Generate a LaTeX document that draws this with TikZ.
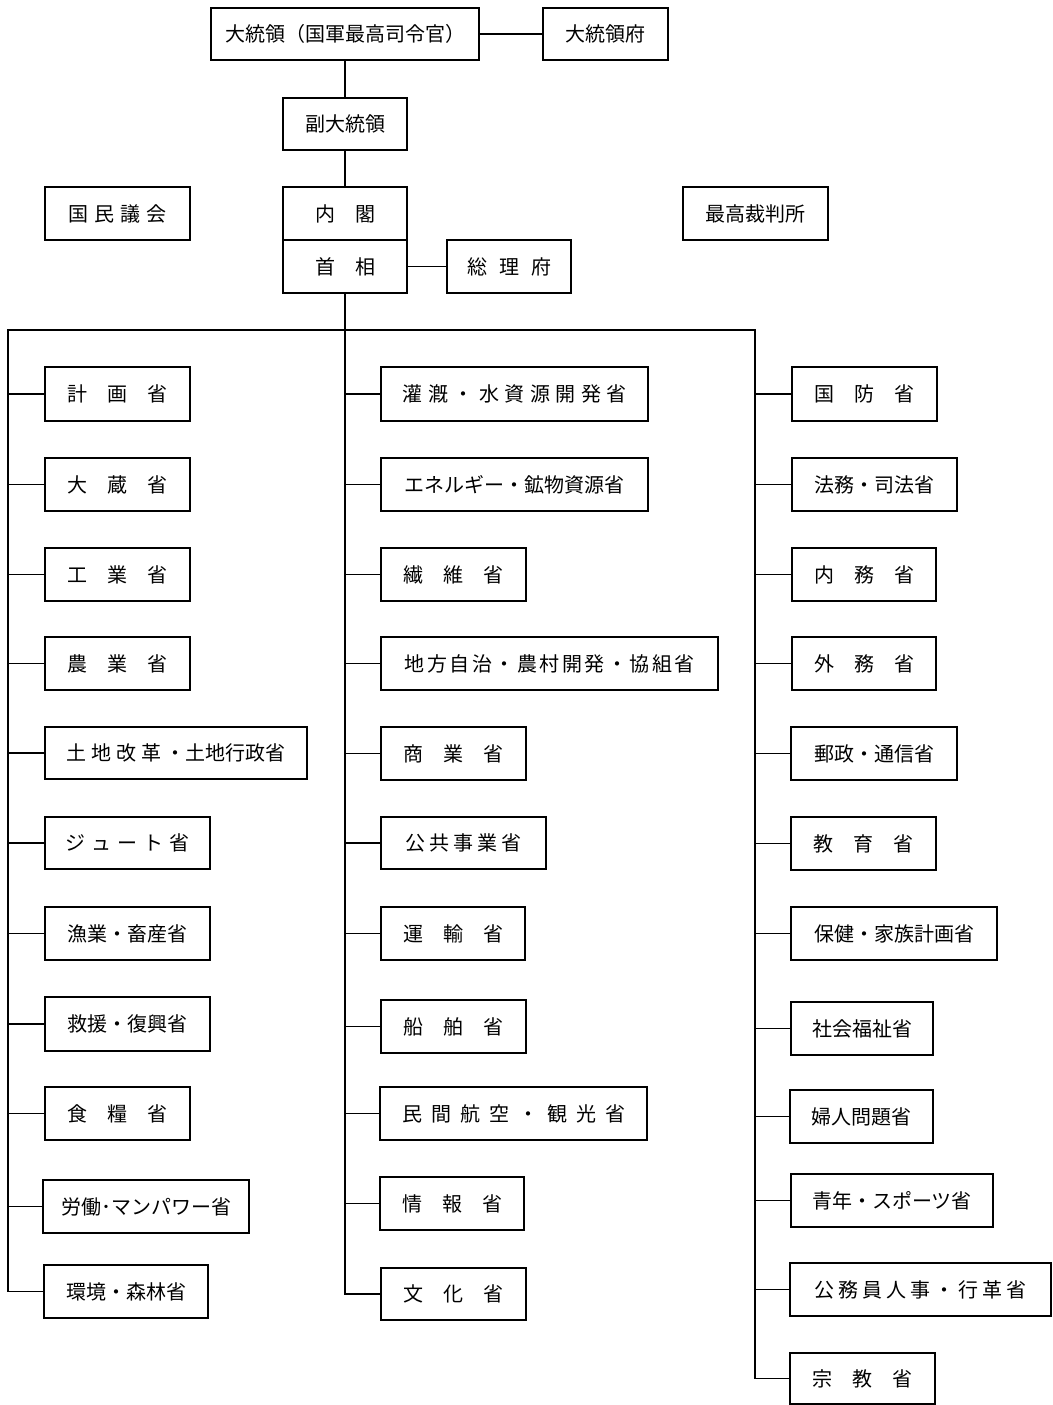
\documentclass[tikz,border=0pt]{standalone}
\usepackage{fontspec}
\newfontfamily\jp{Noto Sans CJK JP}
\makeatletter
\newcommand\spread[2]{\begingroup\def\spread@sep{\hspace{#1}}\let\spread@pre\relax\@tfor\spread@c:=#2\do{\spread@pre\spread@c\let\spread@pre\spread@sep}\endgroup}
\makeatother
\tikzset{
  box/.style={draw=black, line width=1.6pt, fill=white, inner sep=0pt, font=\jp\fontsize{20}{24}\selectfont},
  conn/.style={draw=black, line width=1.5pt}
}
\newcommand\bx[6]{\node[box,minimum width={(#4-#2)*1pt},minimum height={(#5-#3)*1pt}] (#1) at ({(#2+#4)/2},{(#3+#5)/2}) {#6};}
\begin{document}
\begin{tikzpicture}[x=1pt,y=-1pt]
\useasboundingbox (0,0) rectangle (1052,1405);
% top
\bx{pres}{211}{8}{479}{60}{大統領（国軍最高司令官）}
\bx{presoff}{543}{8}{668}{60}{大統領府}
\bx{vp}{283}{98}{407}{150}{副大統領}
\bx{parl}{45}{187}{190}{240}{\spread{6pt}{国民議会}}
\bx{cab}{283}{187}{407}{240}{\spread{1em}{内閣}}
\bx{pm}{283}{240}{407}{293}{\spread{1em}{首相}}
\bx{pmo}{447}{240}{571}{293}{\spread{12pt}{総理府}}
\bx{court}{683}{187}{828}{240}{最高裁判所}
% left column
\bx{l1}{45}{367}{190}{421}{\spread{1em}{計画省}}
\bx{l2}{45}{458}{190}{511}{\spread{1em}{大蔵省}}
\bx{l3}{45}{548}{190}{601}{\spread{1em}{工業省}}
\bx{l4}{45}{637}{190}{690}{\spread{1em}{農業省}}
\bx{l5}{45}{727}{307}{779}{\spread{5pt}{土地改革}\hspace{4pt}・土地行政省}
\bx{l6}{45}{817}{210}{869}{\spread{6pt}{ジュート省}}
\bx{l7}{45}{907}{210}{960}{漁業・畜産省}
\bx{l8}{45}{997}{210}{1051}{救援・復興省}
\bx{l9}{45}{1087}{190}{1140}{\spread{1em}{食糧省}}
\bx{l10}{43}{1180}{249}{1233}{労働･マンパワー省}
\bx{l11}{44}{1265}{208}{1318}{環境・森林省}
% middle column
\bx{m1}{381}{367}{648}{421}{\spread{5.5pt}{灌漑・水資源開発省}}
\bx{m2}{381}{458}{648}{511}{エネルギー・鉱物資源省}
\bx{m3}{381}{548}{526}{601}{\spread{1em}{繊維省}}
\bx{m4}{381}{637}{718}{690}{\spread{2.5pt}{地方自治・農村開発・協組省}}
\bx{m5}{381}{727}{526}{780}{\spread{1em}{商業省}}
\bx{m6}{381}{817}{546}{869}{\spread{4pt}{公共事業省}}
\bx{m7}{381}{907}{525}{960}{\spread{1em}{運輸省}}
\bx{m8}{381}{1000}{526}{1053}{\spread{1em}{船舶省}}
\bx{m9}{380}{1087}{647}{1140}{\spread{9pt}{民間航空・観光省}}
\bx{m10}{380}{1177}{524}{1230}{\spread{1em}{情報省}}
\bx{m11}{381}{1268}{526}{1320}{\spread{1em}{文化省}}
% right column
\bx{r1}{792}{367}{937}{421}{\spread{1em}{国防省}}
\bx{r2}{792}{458}{957}{511}{法務・司法省}
\bx{r3}{792}{548}{936}{601}{\spread{1em}{内務省}}
\bx{r4}{792}{637}{936}{690}{\spread{1em}{外務省}}
\bx{r5}{791}{727}{957}{780}{郵政・通信省}
\bx{r6}{791}{817}{936}{870}{\spread{1em}{教育省}}
\bx{r7}{791}{907}{997}{960}{保健・家族計画省}
\bx{r8}{791}{1002}{933}{1055}{社会福祉省}
\bx{r9}{790}{1090}{933}{1143}{婦人問題省}
\bx{r10}{791}{1174}{993}{1227}{青年・スポーツ省}
\bx{r11}{790}{1263}{1051}{1316}{\spread{4pt}{公務員人事・行革省}}
\bx{r12}{790}{1353}{935}{1404}{\spread{1em}{宗教省}}
% trunk coordinates
\coordinate (L) at (8,330);
\coordinate (R) at (755,330);
% connectors
\draw[conn] (pres.east) -- (presoff.west);
\draw[conn] (pres.south) -- (vp.north);
\draw[conn] (vp.south) -- (cab.north);
\draw[conn] (pm.east) -- (pmo.west);
\draw[conn] (l11.west) -| (L) -- (R) |- (r12.west);
\draw[conn] (pm.south) |- (m11.west);
\foreach \n in {l1,l2,l3,l4,l5,l6,l7,l8,l9,l10}
  \draw[conn] (\n.west) -- (\n.west -| L);
\foreach \n in {m1,m2,m3,m4,m5,m6,m7,m8,m9,m10}
  \draw[conn] (\n.west) -- (\n.west -| pm.south);
\foreach \n in {r1,r2,r3,r4,r5,r6,r7,r8,r9,r10,r11}
  \draw[conn] (\n.west) -- (\n.west -| R);
\end{tikzpicture}
\end{document}
